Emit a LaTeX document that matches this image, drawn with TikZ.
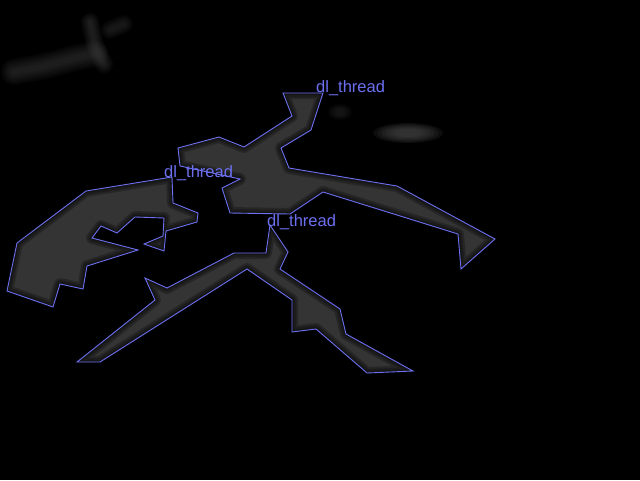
\documentclass[tikz,border=0pt]{standalone}
\usepackage{fontspec}
\setmainfont{Liberation Sans}
\definecolor{blobgray}{RGB}{52,52,52}
\definecolor{smudgegray}{RGB}{72,72,72}
\definecolor{threadblue}{RGB}{108,112,240}
\tikzset{
  contour/.style={draw=threadblue, line width=0.9pt},
  tag/.style={text=threadblue, anchor=base west, inner sep=0pt, font=\fontsize{16.5}{18}\selectfont},
  smear/.style={draw=black, line join=round, opacity=0.25},
  streak/.style={smudgegray, line cap=round, line join=round},
  threadA/.style={insert path={(172,177) -- (173,203) -- (198,213) -- (197,222) -- (166,231) -- (164,251) -- (144,244) -- (163,236) -- (164,218) -- (135,217) -- (117,233) -- (101,226) -- (92,238) -- (138,250) -- (87,266) -- (83,289) -- (60,284) -- (53,307) -- (7,291) -- (17,243) -- (86,191) -- cycle}},
  threadB/.style={insert path={(283,93) -- (323,93) -- (311,130) -- (281,148) -- (289,168) -- (397,186) -- (495,239) -- (461,269) -- (458,234) -- (323,192) -- (290,214) -- (230,213) -- (222,188) -- (240,179) -- (180,166) -- (178,148) -- (219,137) -- (244,147) -- (292,116) -- cycle}},
  threadC/.style={insert path={(270,225) -- (288,252) -- (280,269) -- (340,309) -- (346,334) -- (413,371) -- (367,373) -- (316,329) -- (292,332) -- (292,300) -- (247,269) -- (100,362) -- (77,362) -- (155,300) -- (145,278) -- (167,288) -- (234,253) -- (266,253) -- cycle}}
}

\begin{document}
\begin{tikzpicture}[x=1pt,y=-1pt]
\fill[black] (0,0) rectangle (640,480);
\useasboundingbox (0,0) rectangle (640,480);

% faint smudges
\foreach \w in {26,22,18,14,10,6}{
  \draw[streak, line width=\w pt, opacity=.09] (14,72) -- (45,66) -- (75,58) -- (95,54);
  \draw[streak, line width=0.7*\w pt, opacity=.09] (90,22) -- (95,45) -- (104,64);
  \draw[streak, line width=0.7*\w pt, opacity=.07] (110,30) -- (124,24);
}
\foreach \s in {1.25,1.1,.95,.8,.65,.5}
  \fill[smudgegray, opacity=.18] (408,133) ellipse [x radius=28*\s, y radius=8*\s];
\foreach \s in {1.3,1,.7}
  \fill[smudgegray, opacity=.1] (340,112) ellipse [x radius=9*\s, y radius=6*\s];

% the three shapes
\foreach \p in {threadA,threadB,threadC}
  \fill[blobgray, \p];
\foreach \p in {threadA,threadB,threadC}{
  \draw[smear, line width=12pt, \p];
  \draw[smear, line width=8pt, \p];
  \draw[smear, line width=4pt, \p];
}
\foreach \p in {threadA,threadB,threadC}
  \draw[contour, \p];

\node[tag] (tagA) at (164,177) {dl\_thread};
\node[tag] (tagB) at (316,92) {dl\_thread};
\node[tag] (tagC) at (267,226) {dl\_thread};
\end{tikzpicture}
\end{document}
